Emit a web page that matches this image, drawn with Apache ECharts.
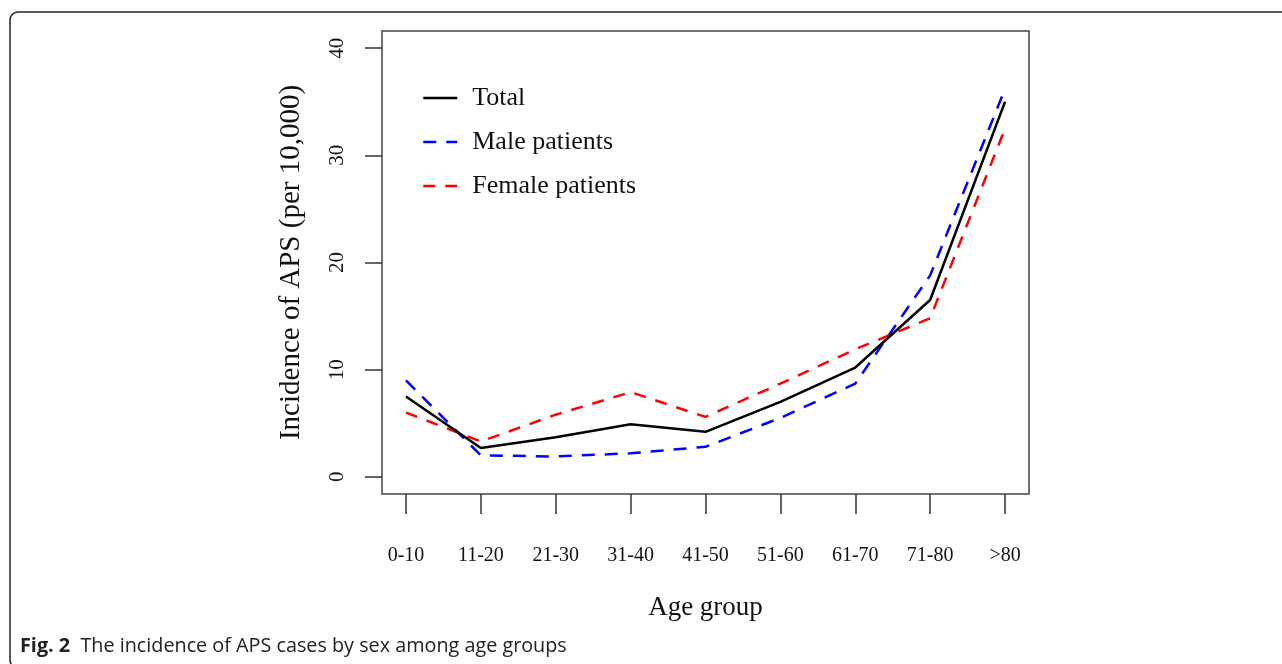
<!DOCTYPE html>
<html>
<head>
<meta charset="utf-8">
<script src="https://cdn.jsdelivr.net/npm/echarts@6/dist/echarts.min.js"></script>
<style>html,body{margin:0;padding:0;background:#fff}#c{width:1282px;height:664px}</style>
</head>
<body>
<div id="c"></div>
<script>
var categories = ['0-10','11-20','21-30','31-40','41-50','51-60','61-70','71-80','>80'];
var totalValues  = [7.5, 2.7, 3.7, 4.9, 4.2, 7.0, 10.2, 16.5, 35.0];
var maleValues   = [9.0, 2.0, 1.9, 2.2, 2.8, 5.5, 8.7, 18.8, 36.2];
var femaleValues = [6.0, 3.3, 5.8, 7.9, 5.6, 8.7, 11.9, 14.8, 32.5];
var yTicks = [0, 10, 20, 30, 40];
var xTicks = categories.map(function (c, i) { return i; });

function pairs(arr) { return arr.map(function (v, i) { return [i, v]; }); }

var serif = 'Liberation Serif';
var chart = echarts.init(document.getElementById('c'));
chart.setOption({
  animation: false,
  backgroundColor: '#fff',
  grid: { left: 382, top: 31, right: 253, bottom: 170, show: true, borderColor: '#444', borderWidth: 1.5, backgroundColor: 'transparent' },
  xAxis: {
    type: 'value', min: -0.32, max: 8.32,
    splitLine: { show: false },
    axisLine: { show: false, onZero: false },
    axisTick: { show: true, length: 20, customValues: xTicks, lineStyle: { color: '#333', width: 1.5 } },
    axisLabel: { customValues: xTicks, margin: 52, fontFamily: serif, fontSize: 20, color: '#111',
      formatter: function (v) { return categories[Math.round(v)]; } },
    name: 'Age group', nameLocation: 'middle', nameGap: 100,
    nameTextStyle: { fontFamily: serif, fontSize: 27, color: '#111' }
  },
  yAxis: {
    type: 'value', min: -1.6, max: 41.6,
    splitLine: { show: false },
    axisLine: { show: false, onZero: false },
    axisTick: { show: true, length: 17, customValues: yTicks, lineStyle: { color: '#333', width: 1.5 } },
    axisLabel: { customValues: yTicks, rotate: 90, margin: 34, fontFamily: serif, fontSize: 21, color: '#111' },
    name: 'Incidence of APS (per 10,000)', nameLocation: 'middle', nameGap: 76,
    nameTextStyle: { fontFamily: serif, fontSize: 29, color: '#111' }
  },
  legend: {
    orient: 'vertical', left: 417, top: 78, itemWidth: 34, itemHeight: 14, itemGap: 14,
    itemStyle: { color: 'rgba(0,0,0,0)', borderColor: 'rgba(0,0,0,0)', borderWidth: 0 },
    lineStyle: { width: 2.5 },
    textStyle: { fontFamily: serif, fontSize: 26, color: '#111', lineHeight: 30, padding: [0, 0, 0, 10] },
    data: ['Total', 'Male patients', 'Female patients']
  },
  series: [
    { name: 'Total', type: 'line', data: pairs(totalValues), symbol: 'none', z: 3,
      lineStyle: { color: '#000', width: 2.5, type: 'solid' }, itemStyle: { color: '#000' } },
    { name: 'Male patients', type: 'line', data: pairs(maleValues), symbol: 'none', z: 2,
      lineStyle: { color: '#0000ff', width: 2.5, type: [13, 10] }, itemStyle: { color: '#0000ff' } },
    { name: 'Female patients', type: 'line', data: pairs(femaleValues), symbol: 'none', z: 2,
      lineStyle: { color: '#ff0000', width: 2.5, type: [12, 10] }, itemStyle: { color: '#ff0000' } }
  ],
  graphic: [
    { type: 'rect', shape: { x: 10, y: 12, width: 1400, height: 656, r: 8 }, silent: true,
      style: { fill: 'none', stroke: '#222', lineWidth: 1.5 } },
    { type: 'text', left: 20, top: 636, silent: true,
      style: { text: '{b|Fig. 2}  The incidence of APS cases by sex among age groups',
        fontFamily: 'Open Sans', fontSize: 19.8, fill: '#222',
        rich: { b: { fontFamily: 'Open Sans', fontSize: 19.8, fontWeight: 'bold', fill: '#222' } } } }
  ]
});
</script>
</body>
</html>
